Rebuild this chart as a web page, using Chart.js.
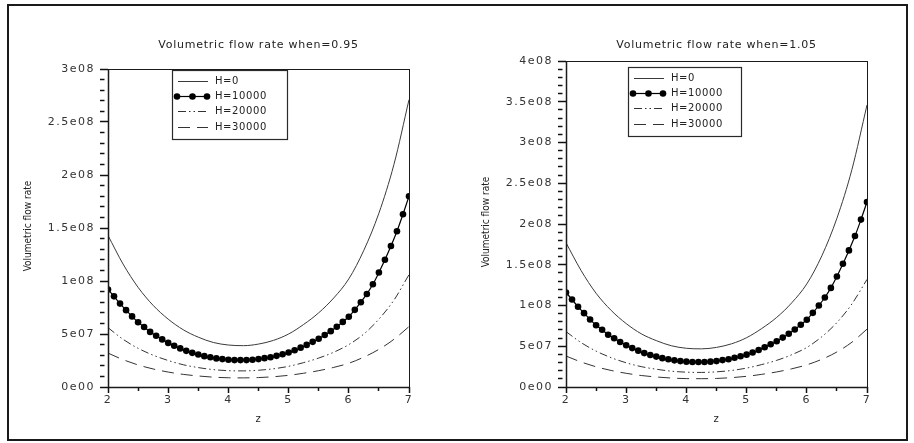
<!DOCTYPE html>
<html>
<head>
<meta charset="utf-8">
<script src="https://cdn.jsdelivr.net/npm/chart.js@4.4.1/dist/chart.umd.min.js"></script>
<style>
  html, body { margin: 0; padding: 0; background: #fff; }
  body { width: 914px; height: 443px; position: relative; overflow: hidden; }
  #marco { position: absolute; left: 7px; top: 4px; width: 897px; height: 433px; border: 2px solid #1a1a1a; }
  .panel { position: absolute; top: 0; width: 457px; height: 443px; }
</style>
</head>
<body>
<div id="marco"></div>
<div class="panel" style="left:0"><canvas id="graficoA" width="457" height="443"></canvas></div>
<div class="panel" style="left:457px"><canvas id="graficoB" width="457" height="443"></canvas></div>
<script>
"use strict";

/* ---- datos (caudal en unidades de 1e08) ---- */
var ESCALA = 1e8;
var NOMBRES = ['H=0', 'H=10000', 'H=20000', 'H=30000'];
var X_ETIQUETAS = ['2', '3', '4', '5', '6', '7'];
var Y_ETIQUETAS_A = ['0e00', '5e07', '1e08', '1.5e08', '2e08', '2.5e08', '3e08'];
var Y_ETIQUETAS_B = ['0e00', '5e07', '1e08', '1.5e08', '2e08', '2.5e08', '3e08', '3.5e08', '4e08'];

var Z_LINEA  = [2, 2.25, 2.5, 2.75, 3, 3.25, 3.5, 3.75, 4, 4.25, 4.5, 4.75, 5, 5.25, 5.5, 5.75, 6, 6.25, 6.5, 6.75, 7];
var Z_PUNTOS = [2, 2.1, 2.2, 2.3, 2.4, 2.5, 2.6, 2.7, 2.8, 2.9, 3, 3.1, 3.2, 3.3, 3.4, 3.5, 3.6, 3.7, 3.8, 3.9,
                4, 4.1, 4.2, 4.3, 4.4, 4.5, 4.6, 4.7, 4.8, 4.9, 5, 5.1, 5.2, 5.3, 5.4, 5.5, 5.6, 5.7, 5.8, 5.9,
                6, 6.1, 6.2, 6.3, 6.4, 6.5, 6.6, 6.7, 6.8, 6.9, 7];

/* when=0.95 */
var H0_A     = [1.43, 1.16, 0.94, 0.77, 0.64, 0.54, 0.47, 0.42, 0.396, 0.39, 0.405, 0.44, 0.50, 0.59, 0.70, 0.84, 1.02, 1.29, 1.64, 2.10, 2.71];
var H10000_A = [0.92, 0.855, 0.787, 0.725, 0.666, 0.611, 0.566, 0.52, 0.484, 0.449, 0.416, 0.389, 0.364, 0.341, 0.322, 0.306, 0.291, 0.28, 0.27, 0.263,
                0.257, 0.254, 0.254, 0.254, 0.257, 0.263, 0.272, 0.281, 0.294, 0.309, 0.325, 0.346, 0.371, 0.397, 0.426, 0.455, 0.491, 0.527, 0.569, 0.614,
                0.663, 0.728, 0.80, 0.878, 0.969, 1.08, 1.20, 1.33, 1.47, 1.63, 1.80];
var H20000_A = [0.56, 0.45, 0.365, 0.30, 0.25, 0.21, 0.183, 0.164, 0.154, 0.152, 0.158, 0.172, 0.195, 0.23, 0.273, 0.328, 0.40, 0.50, 0.64, 0.82, 1.06];
var H30000_A = [0.32, 0.258, 0.208, 0.17, 0.141, 0.119, 0.104, 0.093, 0.087, 0.086, 0.089, 0.097, 0.11, 0.13, 0.154, 0.185, 0.224, 0.282, 0.355, 0.45, 0.57];

/* when=1.05 */
var H0_B     = [1.77, 1.43, 1.15, 0.94, 0.778, 0.653, 0.569, 0.506, 0.475, 0.468, 0.486, 0.53, 0.605, 0.717, 0.854, 1.033, 1.265, 1.61, 2.07, 2.67, 3.46];
var H10000_B = [1.16, 1.073, 0.984, 0.906, 0.829, 0.758, 0.702, 0.642, 0.598, 0.552, 0.512, 0.477, 0.446, 0.416, 0.393, 0.373, 0.354, 0.34, 0.327, 0.318,
                0.311, 0.307, 0.307, 0.307, 0.311, 0.318, 0.33, 0.341, 0.359, 0.377, 0.397, 0.424, 0.454, 0.488, 0.524, 0.562, 0.606, 0.653, 0.706, 0.764,
                0.825, 0.91, 1.0, 1.098, 1.216, 1.355, 1.512, 1.676, 1.852, 2.054, 2.27];
var H20000_B = [0.68, 0.545, 0.44, 0.36, 0.297, 0.25, 0.218, 0.194, 0.182, 0.179, 0.186, 0.203, 0.232, 0.275, 0.327, 0.396, 0.485, 0.617, 0.79, 1.02, 1.32];
var H30000_B = [0.38, 0.307, 0.248, 0.203, 0.168, 0.141, 0.123, 0.11, 0.103, 0.102, 0.105, 0.115, 0.131, 0.155, 0.185, 0.223, 0.272, 0.34, 0.43, 0.55, 0.71];

function puntos(zs, vals) {
  return zs.map(function (z, i) { return { x: z, y: vals[i] * ESCALA }; });
}

function multiplo(v, paso) {
  var q = v / paso;
  return Math.abs(q - Math.round(q)) < 1e-6;
}

/* caja del gráfico, títulos y leyenda */
var marcoEjes = {
  id: 'marcoEjes',
  beforeDraw: function (chart) {
    chart.ctx.letterSpacing = '1.5px';
  },
  afterDraw: function (chart, args, op) {
    var ctx = chart.ctx, a = chart.chartArea;
    ctx.save();
    ctx.letterSpacing = '0px';
    ctx.setLineDash([]);
    ctx.strokeStyle = '#1a1a1a';
    ctx.lineWidth = 1;
    ctx.strokeRect(a.left + 0.5, a.top + 0.5, a.right - a.left, a.bottom - a.top);
    ctx.lineWidth = 1.5;
    ctx.beginPath();
    ctx.moveTo(a.left + 0.5, a.top);
    ctx.lineTo(a.left + 0.5, a.bottom + 0.5);
    ctx.lineTo(a.right + 0.5, a.bottom + 0.5);
    ctx.stroke();

    /* títulos */
    var cx = (a.left + a.right) / 2;
    ctx.fillStyle = '#222';
    ctx.font = '11px "DejaVu Sans"';
    ctx.letterSpacing = '0.75px';
    ctx.textAlign = 'center';
    ctx.textBaseline = 'middle';
    ctx.fillText(op.titulo, cx, 45);
    ctx.font = '10px "DejaVu Sans"';
    ctx.letterSpacing = '1px';
    ctx.fillText('z', cx, 419);

    ctx.save();
    ctx.translate(a.left - 80, (a.top + a.bottom) / 2 - 2);
    ctx.rotate(-Math.PI / 2);
    ctx.letterSpacing = '0px';
    ctx.font = '10px "Liberation Sans Narrow", "DejaVu Sans Condensed", sans-serif';
    ctx.fillText('Volumetric flow rate', 0, 0);
    ctx.restore();

    /* leyenda */
    var lx = a.left + op.leyendaX, ly = op.leyendaY, w = op.leyendaAncho, h = 69;
    ctx.fillStyle = '#fff';
    ctx.fillRect(lx, ly, w, h);
    ctx.lineWidth = 1.2;
    ctx.strokeStyle = '#2a2a2a';
    ctx.strokeRect(lx + 0.5, ly + 0.5, w, h);
    ctx.font = '10px "DejaVu Sans"';
    ctx.letterSpacing = '0.6px';
    ctx.textAlign = 'left';
    chart.data.datasets.forEach(function (ds, k) {
      var fy = Math.round(ly + 11 + k * 15.2) + 0.5;
      ctx.strokeStyle = ds.borderColor;
      ctx.lineWidth = ds.borderWidth;
      ctx.setLineDash(ds.borderDash || []);
      ctx.beginPath();
      ctx.moveTo(lx + 6, fy);
      ctx.lineTo(lx + 36, fy);
      ctx.stroke();
      ctx.setLineDash([]);
      if (ds.pointRadius > 0) {
        ctx.fillStyle = ds.pointBackgroundColor;
        [5, 20.5, 35].forEach(function (dx) {
          ctx.beginPath();
          ctx.arc(lx + dx, fy, ds.pointRadius, 0, Math.PI * 2);
          ctx.fill();
        });
      }
      ctx.fillStyle = '#222';
      ctx.fillText(ds.label, lx + 43, fy);
    });
    ctx.restore();
  }
};

function series(h0, h1, h2, h3) {
  return [
    { label: NOMBRES[0], data: puntos(Z_LINEA, h0), borderColor: '#3a3a3a', borderWidth: 1,
      pointRadius: 0, cubicInterpolationMode: 'monotone' },
    { label: NOMBRES[1], data: puntos(Z_PUNTOS, h1), borderColor: '#000', borderWidth: 1.2,
      pointRadius: 3.3, pointBackgroundColor: '#000', pointBorderWidth: 0, tension: 0.3 },
    { label: NOMBRES[2], data: puntos(Z_LINEA, h2), borderColor: '#333', borderWidth: 1,
      borderDash: [8, 3, 1.5, 3, 1.5, 3], pointRadius: 0, cubicInterpolationMode: 'monotone' },
    { label: NOMBRES[3], data: puntos(Z_LINEA, h3), borderColor: '#333', borderWidth: 1,
      borderDash: [12, 7], pointRadius: 0, cubicInterpolationMode: 'monotone' }
  ];
}

function crearGrafico(id, datasets, yMax, yEtiquetas, arriba, izq, der, op) {
  return new Chart(document.getElementById(id), {
    type: 'line',
    data: { datasets: datasets },
    plugins: [marcoEjes],
    options: {
      responsive: false,
      animation: false,
      layout: { padding: { top: arriba, right: der, bottom: 0, left: 0 } },
      plugins: { legend: { display: false }, tooltip: { enabled: false }, marcoEjes: op },
      scales: {
        x: {
          type: 'linear', min: 2, max: 7,
          border: { display: false },
          grid: {
            display: true, drawOnChartArea: false, drawTicks: true, tickLength: 6,
            tickColor: '#111', tickWidth: 1.5,
            tickBorderDash: function (c) { return multiplo(c.tick.value, 1) ? [] : [4, 100]; }
          },
          afterFit: function (s) { s.height = 56; },
          ticks: {
            stepSize: 0.5, autoSkip: false, maxRotation: 0, padding: 1,
            color: '#333', font: { family: 'DejaVu Sans', size: 11 },
            callback: function (v) { return multiplo(v, 1) ? X_ETIQUETAS[Math.round(v) - 2] : ''; }
          }
        },
        y: {
          min: 0, max: yMax,
          border: { display: false },
          grid: {
            display: true, drawOnChartArea: false, drawTicks: true, tickLength: 8,
            tickColor: '#111', tickWidth: 1.5,
            tickBorderDash: function (c) { return multiplo(c.tick.value, 5e7) ? [] : [4.5, 100]; }
          },
          afterFit: function (s) { s.width = izq; },
          ticks: {
            stepSize: 1e7, autoSkip: false, maxTicksLimit: 100, padding: 5,
            color: '#333', font: { family: 'DejaVu Sans', size: 11 },
            callback: function (v) { return multiplo(v, 5e7) ? yEtiquetas[Math.round(v / 5e7)] : ''; }
          }
        }
      }
    }
  });
}

crearGrafico('graficoA', series(H0_A, H10000_A, H20000_A, H30000_A), 3e8, Y_ETIQUETAS_A, 69, 108, 48,
  { titulo: 'Volumetric flow rate when=0.95', leyendaX: 64, leyendaY: 70, leyendaAncho: 115 });
crearGrafico('graficoB', series(H0_B, H10000_B, H20000_B, H30000_B), 4e8, Y_ETIQUETAS_B, 61, 109, 47,
  { titulo: 'Volumetric flow rate when=1.05', leyendaX: 62, leyendaY: 67, leyendaAncho: 113 });
</script>
</body>
</html>
